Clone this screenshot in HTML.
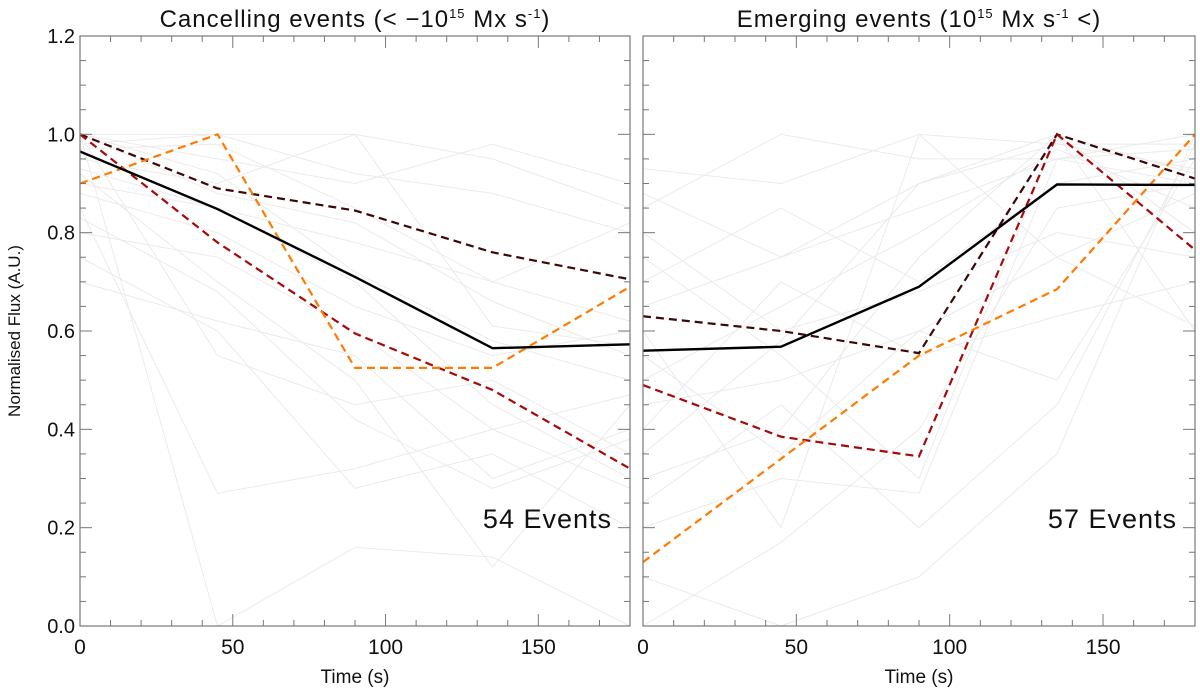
<!DOCTYPE html>
<html><head><meta charset="utf-8"><style>
body{margin:0;background:#fff;}
svg text{font-family:"Liberation Sans",sans-serif;fill:#111;font-weight:300;}
</style></head><body>
<svg id="chart" width="1200" height="691">
<g id="root"></g>
</svg>
<script>
const times=[0,45,90,135,180];
const seriesNames=['mean','dark','red','orange'];
const leftMean=[0.965,0.848,0.71,0.565,0.573];
const leftDark=[1.0,0.89,0.845,0.76,0.705];
const leftRed=[1.0,0.78,0.595,0.48,0.32];
const leftOrange=[0.9,1.0,0.525,0.525,0.69];
const rightMean=[0.56,0.568,0.69,0.898,0.897];
const rightDark=[0.63,0.60,0.555,1.0,0.91];
const rightRed=[0.49,0.385,0.345,1.0,0.765];
const rightOrange=[0.13,0.34,0.55,0.685,1.0];
const leftGrey=[
[1,1,1,0.95,0.85],[1,0.95,0.9,0.98,0.9],[0.98,1,0.92,0.88,0.8],[0.95,0.9,1,0.61,0.57],
[0.9,0.85,0.78,0.7,0.82],[1,0.55,0.45,0.5,0.35],[0.85,0.27,0.32,0.4,0.28],[1,0,0.16,0.14,0],
[0.75,0.6,0.28,0.35,0.2],[0.92,0.7,0.5,0.12,0.45],[0.88,0.8,0.65,0.55,0.6],[1,0.92,0.72,0.58,0.5],
[0.8,0.75,0.6,0.4,0.47],[0.97,0.98,0.85,0.7,0.62],[0.7,0.62,0.55,0.3,0.4],[1,0.88,0.82,0.66,0.55],
[0.93,0.85,0.7,0.45,0.3],[0.83,0.68,0.42,0.28,0.38]];
const rightGrey=[
[0.85,1,0.95,0.95,1],[0.93,0.9,1,0.98,0.98],[0.75,0.55,0.3,1,0.6],[0.6,0.2,1,0.75,0.61],
[0.7,0.85,0.7,0.9,0.95],[0.45,0.5,0.6,0.75,0.88],[0.3,0.4,0.75,1,0.92],[0.2,0.3,0.27,0.95,0.97],
[0,0.17,0.4,0.85,0.9],[0.5,0.65,0.8,0.97,0.85],[0.4,0.7,0.55,0.63,0.7],[0.88,0.75,0.9,1,0.8],
[0.55,0.35,0.6,0.5,0.95],[0.25,0.45,0.2,0.45,0.98],[0.65,0.75,0.85,0.95,0.9],[0.8,0.6,0.68,0.8,0.75],
[0.1,0,0.1,0.35,1],[0.35,0.58,0.9,0.98,0.93]];
const yTicks=['0.0','0.2','0.4','0.6','0.8','1.0','1.2'];
const xTicks=['0','50','100','150'];
const panels=[
 {x0:80,x1:630,title:'Cancelling events (< \u221210',sup:'15',title2:' Mx s',sup2:'-1',title3:')',count:'54 Events',mean:leftMean,dark:leftDark,red:leftRed,orange:leftOrange,grey:leftGrey,name:'cancelling'},
 {x0:643,x1:1195,title:'Emerging events (10',sup:'15',title2:' Mx s',sup2:'-1',title3:' <)',count:'57 Events',mean:rightMean,dark:rightDark,red:rightRed,orange:rightOrange,grey:rightGrey,name:'emerging'}];
const Y0=626,Y1=36;
const yS=v=>Y0-(v/1.2)*(Y0-Y1);
const NS='http://www.w3.org/2000/svg';
const root=document.getElementById('root');
function mk(t,a,p){const e=document.createElementNS(NS,t);for(const k in a)e.setAttribute(k,a[k]);(p||root).appendChild(e);return e;}
panels.forEach((P,pi)=>{
 const xS=v=>P.x0+v/180*(P.x1-P.x0);
 const g=mk('g',{});
 
 
 const line=(arr,stroke,w,dash,nm)=>{
  const pl=mk('polyline',{points:arr.map((v,i)=>xS(times[i])+','+yS(v)).join(' '),fill:'none',stroke:stroke,'stroke-width':w,'stroke-dasharray':dash||'none'},g);
  
  
 };
 P.grey.forEach((a,i)=>line(a,'#ebebeb',1,null,'event-line-'+i));
 line(P.dark,'#3a0808',2.2,'8,5','series-dark');
 line(P.red,'#a50a0a',2.2,'8,5','series-red');
 line(P.orange,'#ff7a00',2.2,'8,5','series-orange');
 line(P.mean,'#000',2.4,null,'series-mean');
 const fr=mk('rect',{x:P.x0,y:Y1,width:P.x1-P.x0,height:Y0-Y1,fill:'none',stroke:'#777','stroke-width':1.2},g);
 
 
 for(let v=0;v<=1.2001;v+=0.05){
  const y=yS(v);const maj=Math.abs(v/0.2-Math.round(v/0.2))<1e-6;const L=maj?12:6;
  mk('line',{x1:P.x0,x2:P.x0+L,y1:y,y2:y,stroke:'#777'},g);
  mk('line',{x1:P.x1,x2:P.x1-L,y1:y,y2:y,stroke:'#777'},g);
 }
 for(let t=0;t<=180;t+=10){
  const x=xS(t);const L=t%50===0?12:6;
  mk('line',{x1:x,x2:x,y1:Y0,y2:Y0-L,stroke:'#777'},g);
  mk('line',{x1:x,x2:x,y1:Y1,y2:Y1+L,stroke:'#777'},g);
 }
 xTicks.forEach(s=>{const t=mk('text',{x:xS(+s),y:Y0+28,'font-size':21,'text-anchor':'middle'},g);t.textContent=s;
  });
 if(pi===0){yTicks.forEach(s=>{const t=mk('text',{x:P.x0-5,y:yS(+s)+7,'font-size':20,'text-anchor':'end'},g);t.textContent=s;
  });}
 const xt=mk('text',{x:(P.x0+P.x1)/2,y:Y0+57,'font-size':19,'text-anchor':'middle'},g);xt.textContent='Time (s)';
 
 const tt=mk('text',{x:(P.x0+P.x1)/2,y:27,'font-size':24,'text-anchor':'middle','letter-spacing':'1'},g);
 
 tt.innerHTML=P.title+'<tspan dy="-9" font-size="13">'+P.sup+'</tspan><tspan dy="9">'+P.title2+'</tspan><tspan dy="-9" font-size="13">'+P.sup2+'</tspan><tspan dy="9">'+P.title3+'</tspan>';
 const ct=mk('text',{x:P.x1-18,y:528,'font-size':27,'text-anchor':'end','letter-spacing':'1'},g);ct.textContent=P.count;
 
});
const yl=mk('text',{x:0,y:0,'font-size':17,'text-anchor':'middle',transform:'translate(20,331) rotate(-90)'});
yl.textContent='Normalised Flux (A.U.)';


</script>
</body></html>
